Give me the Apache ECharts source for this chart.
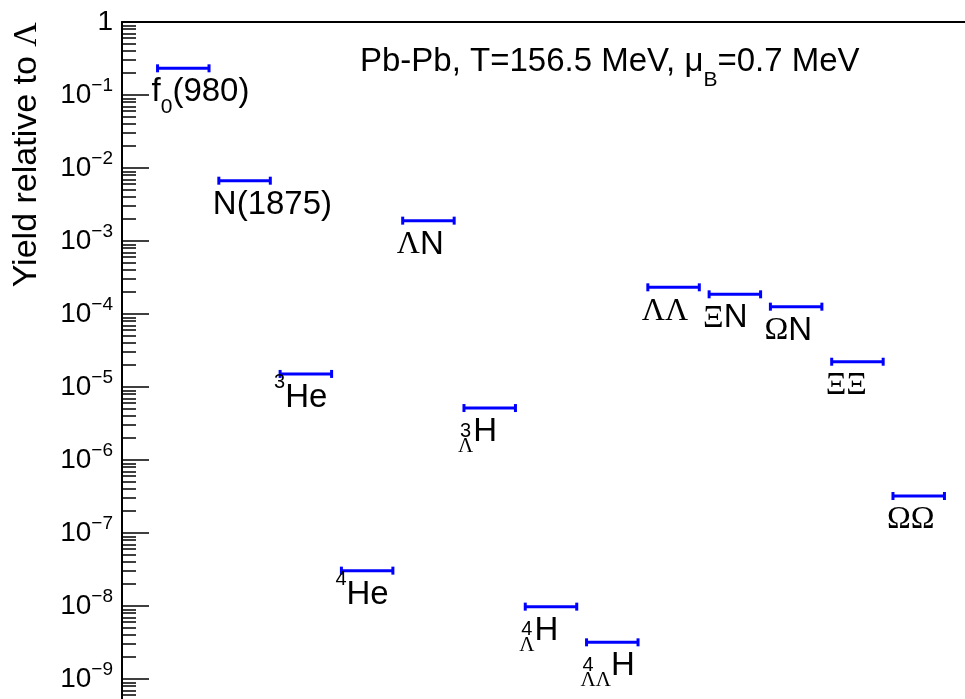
<!DOCTYPE html>
<html>
<head>
<meta charset="utf-8">
<script src="https://cdn.jsdelivr.net/npm/echarts@6/dist/echarts.min.js"></script>
<style>
    html, body { margin: 0; padding: 0; background: #fff; }
    #chart { width: 965px; height: 699px; }
</style>
</head>
<body>
<div id="chart"></div>
<script>
// bin position of each species along x
var binIndex = [1, 2, 3, 4, 5, 6, 7, 8, 9, 10, 11, 12, 13];
// yields relative to Lambda
var yieldValues = [0.232, 6.7e-3, 1.51e-5, 3.05e-8, 1.9e-3, 5.15e-6, 9.8e-9, 3.18e-9, 2.32e-4, 1.86e-4, 1.26e-4, 2.22e-5, 3.21e-7];
// label text (rich tags for sub/superscripts and greek)
var labelBody = ['f{sub|0}(980)', 'N(1875)', '{sup|3}He', '{sup|4}He', '{g|Λ}N', '{subg|Λ}H', '{subg|Λ}H', '{subg|ΛΛ}H',
    '{g|ΛΛ}', '{g|Ξ}N', '{g|Ω}N', '{g|ΞΞ}', '{g|ΩΩ}'];
// mass number drawn on top of the lambda subscript
var labelStackSup = ['', '', '', '', '', '3', '4', '4', '', '', '', '', ''];

var yMajorTicks = [1e-9, 1e-8, 1e-7, 1e-6, 1e-5, 1e-4, 1e-3, 1e-2, 1e-1, 1];
var yMajorLabels = ['10{e|−9}', '10{e|−8}', '10{e|−7}', '10{e|−6}', '10{e|−5}', '10{e|−4}', '10{e|−3}', '10{e|−2}', '10{e|−1}', '1'];

var titleText = 'Pb-Pb, T=156.5 MeV, {g|μ}{sub|B}=0.7 MeV';
var yAxisTitle = 'Yield relative to {g|Λ}';

var SANS = '"Liberation Sans", Arial, sans-serif';
var SERIF = '"Liberation Serif", "Times New Roman", serif';
var BIN_HALF = 0.42;

// minor ticks at 2..9 x 10^n
var yMinorTicks = [];
for (var p = -10; p < 0; p++) {
    for (var k = 2; k <= 9; k++) {
        yMinorTicks.push(k * Math.pow(10, p));
    }
}

var labelRich = {
    sup: { fontSize: 20, fontFamily: SANS, lineHeight: 22, verticalAlign: 'top' },
    sub: { fontSize: 21, fontFamily: SANS, lineHeight: 30, verticalAlign: 'bottom' },
    subg: { fontSize: 21, fontFamily: SERIF, lineHeight: 38, verticalAlign: 'bottom' },
    g: { fontSize: 32, fontFamily: SERIF }
};

function renderBin(params, api) {
    var i = params.dataIndex;
    var xc = api.value(0);
    var yv = api.value(1);
    var left = api.coord([xc - BIN_HALF, yv]);
    var right = api.coord([xc + BIN_HALF, yv]);
    var lineStyle = { stroke: '#0000ff', lineWidth: 3 };
    var children = [
        { type: 'line', shape: { x1: left[0], y1: left[1], x2: right[0], y2: right[1] }, style: lineStyle },
        { type: 'line', shape: { x1: left[0], y1: left[1] - 4, x2: left[0], y2: left[1] + 4 }, style: lineStyle },
        { type: 'line', shape: { x1: right[0], y1: right[1] - 4, x2: right[0], y2: right[1] + 4 }, style: lineStyle },
        {
            type: 'text', x: left[0] - 6, y: left[1] + 24,
            style: {
                text: labelBody[i], rich: labelRich, fontSize: 33, fontFamily: SANS, fill: '#000',
                lineHeight: 50, align: 'left', verticalAlign: 'middle'
            }
        }
    ];
    if (labelStackSup[i]) {
        children.push({
            type: 'text', x: left[0] - 4, y: left[1] + 23,
            style: { text: labelStackSup[i], fontSize: 20, fontFamily: SANS, fill: '#000', align: 'left', verticalAlign: 'middle' }
        });
    }
    return { type: 'group', children: children };
}

var chart = echarts.init(document.getElementById('chart'));

var option = {
    animation: false,
    backgroundColor: '#fff',
    grid: { left: 122, top: 22, width: 858, height: 730, outerBoundsMode: 'none', containLabel: false },
    xAxis: [{
        type: 'value', min: 0, max: 14, position: 'top',
        axisLine: { show: true, lineStyle: { color: '#000', width: 2 } },
        axisTick: { show: false }, axisLabel: { show: false }, splitLine: { show: false }
    }],
    yAxis: [{
        type: 'log', logBase: 10, min: 1e-10, max: 1, position: 'left',
        axisLine: { show: true, lineStyle: { color: '#000', width: 2 } },
        axisTick: { show: true, inside: true, length: 27, customValues: yMajorTicks, lineStyle: { color: '#000', width: 1.5 } },
        axisLabel: {
            show: true, customValues: yMajorTicks, margin: 9, color: '#000', fontSize: 28, fontFamily: SANS,
            lineHeight: 38,
            formatter: function (v) {
                var n = Math.round(Math.log(v) / Math.LN10);
                for (var j = 0; j < yMajorTicks.length; j++) {
                    if (Math.round(Math.log(yMajorTicks[j]) / Math.LN10) === n) return yMajorLabels[j];
                }
                return '';
            },
            rich: { e: { fontSize: 19, fontFamily: SANS, lineHeight: 22, verticalAlign: 'top' } }
        },
        splitLine: { show: false }
    }, {
        type: 'log', logBase: 10, min: 1e-10, max: 1, position: 'left',
        axisLine: { show: false },
        axisTick: { show: true, inside: true, length: 14, customValues: yMinorTicks, lineStyle: { color: '#000', width: 1.5 } },
        axisLabel: { show: false },
        splitLine: { show: false }
    }],
    graphic: [{
        type: 'text', x: 360, y: 62,
        style: {
            text: titleText, fontSize: 33, fontFamily: SANS, fill: '#000', lineHeight: 58,
            align: 'left', verticalAlign: 'middle',
            rich: {
                g: { fontSize: 33, fontFamily: SANS },
                sub: { fontSize: 21, fontFamily: SANS, lineHeight: 20, verticalAlign: 'bottom' }
            }
        }
    }, {
        type: 'text', x: 27, y: 22, rotation: Math.PI / 2,
        style: {
            text: yAxisTitle, fontSize: 34, fontFamily: SANS, fill: '#000',
            align: 'right', verticalAlign: 'middle',
            rich: { g: { fontSize: 34, fontFamily: SERIF } }
        }
    }],
    series: [{
        type: 'custom',
        xAxisIndex: 0,
        yAxisIndex: 0,
        renderItem: renderBin,
        data: binIndex.map(function (x, i) { return [x, yieldValues[i]]; }),
        clip: false
    }]
};

chart.setOption(option);
</script>
</body>
</html>
